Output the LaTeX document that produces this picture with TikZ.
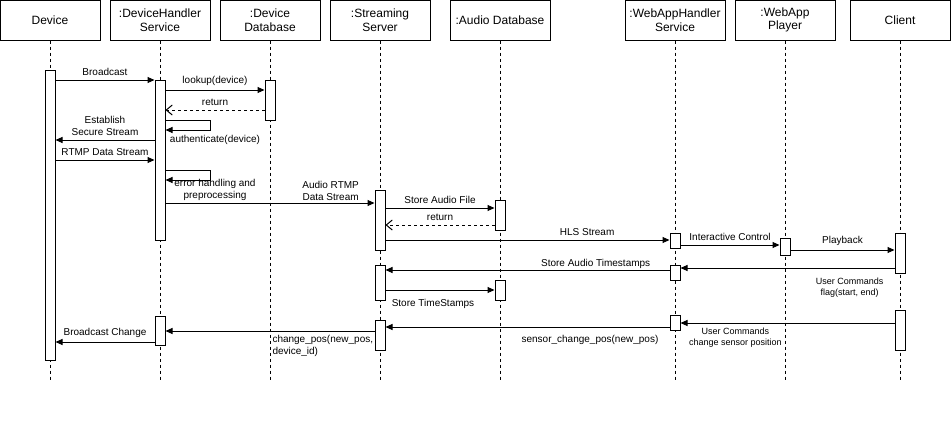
\documentclass[tikz,border=0pt]{standalone}
\usepackage{fontspec}
\setmainfont{Liberation Sans}
\usetikzlibrary{positioning,calc,arrows.meta}

\begin{document}
\begin{tikzpicture}[x=1pt,y=-1pt,line width=1pt,
    head/.style={draw,minimum width=100pt,minimum height=40pt,inner sep=0pt,align=center,font=\fontsize{12}{13.5}\selectfont},
    life/.style={dash pattern=on 3pt off 3pt},
    act/.style={draw,fill=white,minimum width=10pt,inner sep=0pt,anchor=north},
    msg/.style={-{Triangle[length=7pt,width=6pt]}},
    ret/.style={dash pattern=on 3pt off 3pt,-{Straight Barb[length=6pt,width=10pt]}},
    lbl/.style={font=\fontsize{10}{12}\selectfont,inner sep=4pt,align=center},
    sml/.style={font=\fontsize{9}{11}\selectfont,inner sep=2pt,align=center}]
    \useasboundingbox (0,0) rectangle (952,426);

    % Participants
    \node[head] (dev) at (50,20) {Device};
    \node[head] (dhs) at (160,20) {:DeviceHandler\\Service};
    \node[head] (ddb) at (270,20) {:Device\\Database};
    \node[head] (str) at (380,20) {:Streaming\\Server};
    \node[head] (adb) at (500,20) {:Audio Database};
    \node[head] (wah) at (675,20) {:WebAppHandler\\Service};
    \node[head] (wap) at (785,20) {:WebApp\\Player};
    \node[head] (cli) at (900,20) {Client};

    % Lifelines
    \foreach \n in {dev,dhs,ddb,str,adb,wah,wap,cli}
        \draw[life] (\n.south) -- ++(0,339);

    % Activations
    \node[act,minimum height=290pt] (devA) at (50,70) {};
    \node[act,minimum height=160pt] (dhsA) at (160,80) {};
    \node[act,minimum height=29pt] (dhsB) at (160,316) {};
    \node[act,minimum height=40pt] (ddbA) at (270,80) {};
    \node[act,minimum height=60pt] (strA) at (380,190) {};
    \node[act,minimum height=35pt] (strB) at (380,265) {};
    \node[act,minimum height=30pt] (strC) at (380,320) {};
    \node[act,minimum height=30pt] (adbA) at (500,200) {};
    \node[act,minimum height=20pt] (adbB) at (500,280) {};
    \node[act,minimum height=15pt] (wahA) at (675,233) {};
    \node[act,minimum height=15pt] (wahB) at (675,265) {};
    \node[act,minimum height=15pt] (wahC) at (675,315) {};
    \node[act,minimum height=17pt] (wapA) at (785,238) {};
    \node[act,minimum height=40pt] (cliA) at (900,233) {};
    \node[act,minimum height=40pt] (cliB) at (900,310) {};

    % Device registration
    \draw[msg] (devA.east |- 0,80) -- node[lbl,above] {Broadcast} (dhsA.west |- 0,80);
    \draw[msg] (dhsA.east |- 0,90) -- node[lbl,above] {lookup(device)} (ddbA.west |- 0,90);
    \draw[ret] (ddbA.west |- 0,110) -- node[lbl,above] {return} (dhsA.east |- 0,110);
    \draw[msg] (dhsA.east |- 0,120) -- ++(45,0) -- ++(0,10) -- (dhsA.east |- 0,130);
    \node[lbl] (auth) at (215,140) {authenticate(device)};
    \draw[msg] (dhsA.west |- 0,140) -- node[lbl,above] {Establish\\Secure Stream} (devA.east |- 0,140);
    \draw[msg] (devA.east |- 0,160) -- node[lbl,above] {RTMP Data Stream} (dhsA.west |- 0,160);
    \draw[msg] (dhsA.east |- 0,170) -- ++(45,0) -- ++(0,10) -- (dhsA.east |- 0,180);
    \node[lbl] (errh) at (215,190) {error handling and\\preprocessing};

    % Streaming
    \draw[msg] (dhsA.east |- 0,203) -- node[lbl,above,pos=.79,inner sep=2pt] {Audio RTMP\\Data Stream} (strA.west |- 0,203);
    \draw[msg] (strA.east |- 0,208) -- node[lbl,above] {Store Audio File} (adbA.west |- 0,208);
    \draw[ret] (adbA.west |- 0,225) -- node[lbl,above] {return} (strA.east |- 0,225);
    \draw[msg] (strA.east |- 0,240) -- node[lbl,above,pos=.71] {HLS Stream} (wahA.west |- 0,240);
    \draw[msg] (wahA.east |- 0,245) -- node[lbl,above] {Interactive Control} (wapA.west |- 0,245);
    \draw[msg] (wapA.east |- 0,250) -- node[lbl,above] {Playback} (cliA.west |- 0,250);

    % Timestamps
    \draw[msg] (cliA.west |- 0,268) -- node[sml,below,pos=.21,yshift=-7pt] {User Commands\\flag(start, end)} (wahB.east |- 0,268);
    \draw[msg] (wahB.west |- 0,270) -- node[lbl,above,pos=.26,inner sep=1pt] {Store Audio Timestamps} (strB.east |- 0,270);
    \draw[msg] (strB.east |- 0,290) -- (adbB.west |- 0,290);
    \node[lbl] (stts) at (433,304) {Store TimeStamps};

    % Sensor position
    \draw[msg] (cliB.west |- 0,323) -- node[sml,below,pos=.744,yshift=-2pt] {User Commands\\change sensor position} (wahC.east |- 0,323);
    \draw[msg] (wahC.west |- 0,327) -- node[lbl,below,pos=.28,yshift=-4pt] {sensor\_change\_pos(new\_pos)} (strC.east |- 0,327);
    \draw[msg] (strC.west |- 0,331) -- (dhsB.east |- 0,331);
    \node[lbl,align=left,anchor=north west,inner sep=0pt] (chpos) at (272,335) {change\_pos(new\_pos,\\device\_id)};
    \draw[msg] (dhsB.west |- 0,342) -- node[lbl,above] {Broadcast Change} (devA.east |- 0,342);

\end{tikzpicture}
\end{document}
